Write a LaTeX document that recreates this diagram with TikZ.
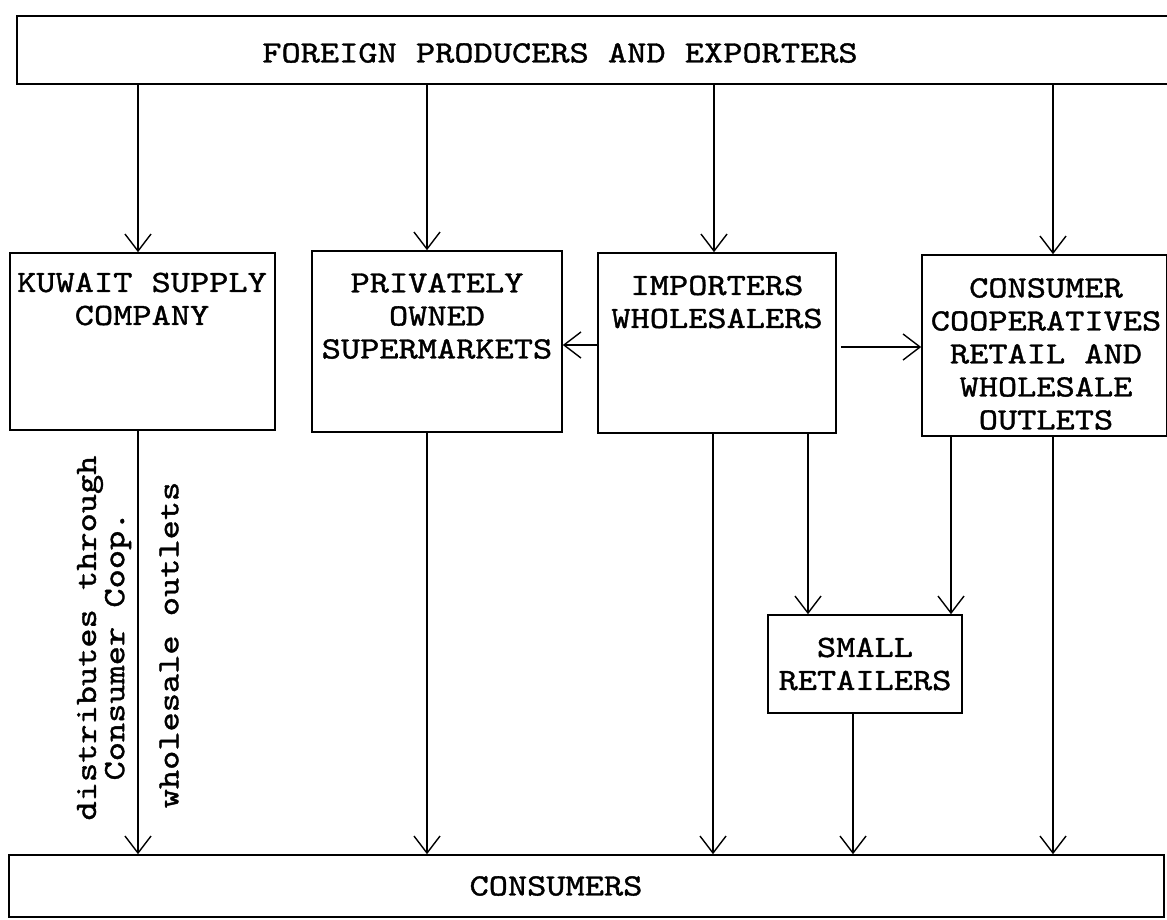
\documentclass[tikz,border=0pt]{standalone}
\usepackage{fontspec}
\newfontfamily\tw{lmmono10-regular.otf}[FakeStretch=1.18,FakeBold=1.2]
\usetikzlibrary{arrows.meta,fit}
\begin{document}
\begin{tikzpicture}[x=1pt,y=-1pt,
  box/.style={draw,line width=1.6pt,inner sep=0pt},
  txt/.style={font=\tw\fontsize{31}{33}\selectfont, align=center, inner sep=0pt},
  arr/.style={line width=1.4pt,-{Straight Barb[length=17pt,width=26pt,line width=1.4pt]}}]
\path[use as bounding box, fill=white] (0,0) rectangle (1167,920);

% boxes
\node[box, fit={(17,16) (1190,84)}] (fpe) {};
\node[txt] (fpet) at (560,53) {FOREIGN PRODUCERS AND EXPORTERS};

\node[box, fit={(10,253) (275,430)}] (ksc) {};
\node[txt] (ksct) at (142,299) {KUWAIT SUPPLY\\COMPANY};

\node[box, fit={(312,251) (562,432)}] (pos) {};
\node[txt] (post) at (437,316) {PRIVATELY\\OWNED\\SUPERMARKETS};

\node[box, fit={(598,253) (836,433)}] (imp) {};
\node[txt] (impt) at (717,302) {IMPORTERS\\WHOLESALERS};

\node[box, fit={(922,255) (1167,436)}] (coop) {};
\node[txt] (coopt) at (1046,354) {CONSUMER\\COOPERATIVES\\RETAIL AND\\WHOLESALE\\OUTLETS};

\node[box, fit={(768,615) (962,713)}] (sr) {};
\node[txt] (srt) at (865,664) {SMALL\\RETAILERS};

\node[box, fit={(9,855) (1164,917)}] (con) {};
\node[txt] (cont) at (556,886) {CONSUMERS};

% vertical labels
\node[txt, rotate=90] (l1) at (90,638) {distributes through};
\node[txt, rotate=90] (l2) at (118,646) {Consumer Coop.};
\node[txt, rotate=90] (l3) at (169,645) {wholesale outlets};

% arrows from producers
\draw[arr] (fpe.south -| 138,0) -- (ksc.north -| 138,0);
\draw[arr] (fpe.south -| 427,0) -- (pos.north -| 427,0);
\draw[arr] (fpe.south -| 714,0) -- (imp.north -| 714,0);
\draw[arr] (fpe.south -| 1053,0) -- (coop.north -| 1053,0);

% lateral arrows
\draw[arr] (imp.west |- 0,345) -- (pos.east |- 0,345);
\draw[arr] ([xshift=4pt]imp.east |- 0,347) -- (coop.west |- 0,347);

% to consumers / small retailers
\draw[arr] (ksc.south -| 138,0) -- (con.north -| 138,0);
\draw[arr] (pos.south -| 427,0) -- (con.north -| 427,0);
\draw[arr] (imp.south -| 713,0) -- (con.north -| 713,0);
\draw[arr] (imp.south -| 808,0) -- (sr.north -| 808,0);
\draw[arr] (coop.south -| 951,0) -- (sr.north -| 951,0);
\draw[arr] (coop.south -| 1053,0) -- (con.north -| 1053,0);
\draw[arr] (sr.south -| 853,0) -- (con.north -| 853,0);
\end{tikzpicture}
\end{document}
